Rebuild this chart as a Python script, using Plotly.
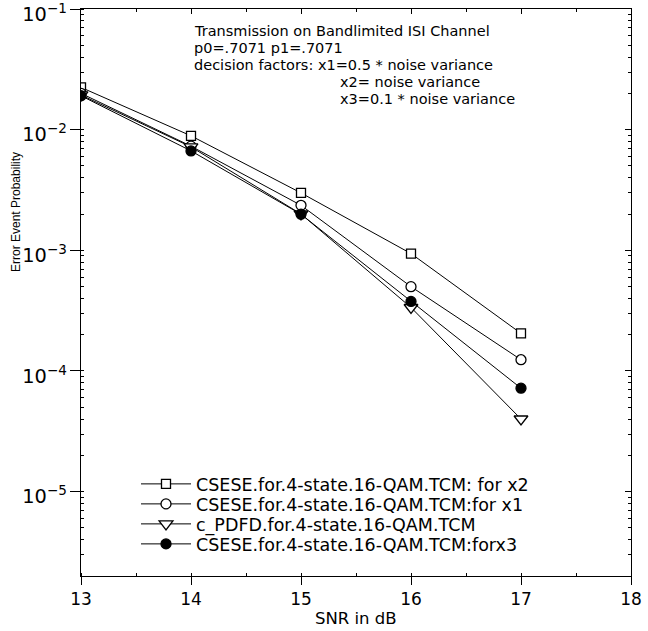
import plotly.graph_objects as go
import math

snr = [13, 14, 15, 16, 17]
pe_x2 = [0.0224, 0.00889, 0.00299, 9.4e-4, 2.05e-4]
pe_x1 = [0.0200, 0.0073, 0.00236, 5.0e-4, 1.24e-4]
pe_pdfd = [0.0194, 0.0072, 0.0020, 3.36e-4, 4.0e-5]
pe_x3 = [0.0191, 0.00667, 0.00199, 3.77e-4, 7.2e-5]

names = ["CSESE.for.4-state.16-QAM.TCM: for x2",
         "CSESE.for.4-state.16-QAM.TCM:for x1",
         "c_PDFD.for.4-state.16-QAM.TCM",
         "CSESE.for.4-state.16-QAM.TCM:forx3"]

note_lines = ["Transmission on Bandlimited ISI Channel",
              "p0=.7071 p1=.7071",
              "decision factors: x1=0.5 * noise variance",
              "x2= noise variance",
              "x3=0.1 * noise variance"]

FONT = "DejaVu Sans, Verdana, sans-serif"
L, R, T, B = 81, 631, 9, 576
W, H = R - L, B - T
YR = [math.log10(2e-6), -1]


def px(xp):
    return (xp - L) / W


def py(yp):
    return 1 - (yp - T) / H


fig = go.Figure()
styles = [
    (pe_x2, dict(symbol="square", size=9, color="white")),
    (pe_x1, dict(symbol="circle", size=10, color="white")),
    (pe_pdfd, dict(symbol="triangle-down", size=12, color="white")),
    (pe_x3, dict(symbol="circle", size=10, color="black")),
]
legend_ids = ["legend", "legend2", "legend3", "legend4"]
for (vals, mk), nm, lg in zip(styles, names, legend_ids):
    fig.add_trace(go.Scatter(
        x=snr, y=vals, name=nm, mode="lines+markers", legend=lg,
        line=dict(color="black", width=1),
        marker=dict(line=dict(color="black", width=1.3), **mk),
    ))

# invisible trace to draw top/right mirrored axes with inside ticks
fig.add_trace(go.Scatter(x=snr, y=pe_x2, xaxis="x2", yaxis="y2", mode="markers",
                         marker=dict(opacity=0), showlegend=False, hoverinfo="skip"))

ys = [31, 48, 65, 82, 99]
xs = [192, 192, 192, 338, 338]
for t, xp, yp in zip(note_lines, xs, ys):
    fig.add_annotation(text=t, xref="paper", yref="paper",
                       x=px(xp), y=py(yp),
                       xanchor="left", yanchor="middle", showarrow=False,
                       font=dict(family=FONT, size=14.5, color="black"))

fig.add_annotation(text="Error Event Probability", xref="paper", yref="paper",
                   x=px(16), y=py(212), textangle=-90,
                   xanchor="center", yanchor="middle", showarrow=False,
                   font=dict(family="Liberation Sans Narrow, Liberation Sans, Arial", size=12, color="black"))

fig.add_annotation(text="SNR in dB", xref="paper", yref="paper",
                   x=0.5, y=py(618), xanchor="center", yanchor="middle", showarrow=False,
                   font=dict(family=FONT, size=16.5, color="black"))

axis_common = dict(showgrid=False, zeroline=False, showline=True, linecolor="black",
                   linewidth=1, tickcolor="black", automargin=False)

legend_rows = [484, 504, 524, 544]
legend_cfg = {}
for lg, yc in zip(legend_ids, legend_rows):
    legend_cfg[lg] = dict(x=px(136), y=py(yc), xanchor="left", yanchor="middle",
                          bgcolor="rgba(0,0,0,0)", font=dict(family=FONT, size=17.5),
                          itemwidth=50, borderwidth=0)

fig.update_layout(
    width=648, height=631,
    margin=dict(l=L, r=648 - R, t=T, b=631 - B),
    paper_bgcolor="white", plot_bgcolor="white",
    font=dict(family=FONT, color="black", size=17),
    showlegend=True,
    xaxis=dict(
        range=[13, 18], dtick=1, tick0=13,
        ticks="outside", ticklen=8,
        minor=dict(ticks="inside", ticklen=3, dtick=0.5, tickcolor="black", showgrid=False),
        tickfont=dict(size=17), **axis_common,
    ),
    yaxis=dict(
        type="log", range=YR, dtick=1, exponentformat="power",
        ticks="outside", ticklen=10, ticklabeloverflow="allow", ticklabelshift=5,
        ticklabelstandoff=0,
        minor=dict(ticks="inside", ticklen=3, dtick="D1", tickcolor="black", showgrid=False),
        tickfont=dict(size=15.5), **axis_common,
    ),
    xaxis2=dict(
        overlaying="x", side="top", anchor="y2", range=[13, 18], dtick=1, tick0=13,
        ticks="inside", ticklen=5, showticklabels=False,
        minor=dict(ticks="inside", ticklen=3, dtick=0.5, tickcolor="black", showgrid=False),
        **axis_common,
    ),
    yaxis2=dict(
        overlaying="y", side="right", anchor="x2", type="log", range=YR, dtick=1,
        ticks="inside", ticklen=6, showticklabels=False,
        minor=dict(ticks="inside", ticklen=3, dtick="D1", tickcolor="black", showgrid=False),
        **axis_common,
    ),
    **legend_cfg,
)

fig.write_html("out.html", post_script="document.body.style.margin='0';",
               config={"displayModeBar": False})
